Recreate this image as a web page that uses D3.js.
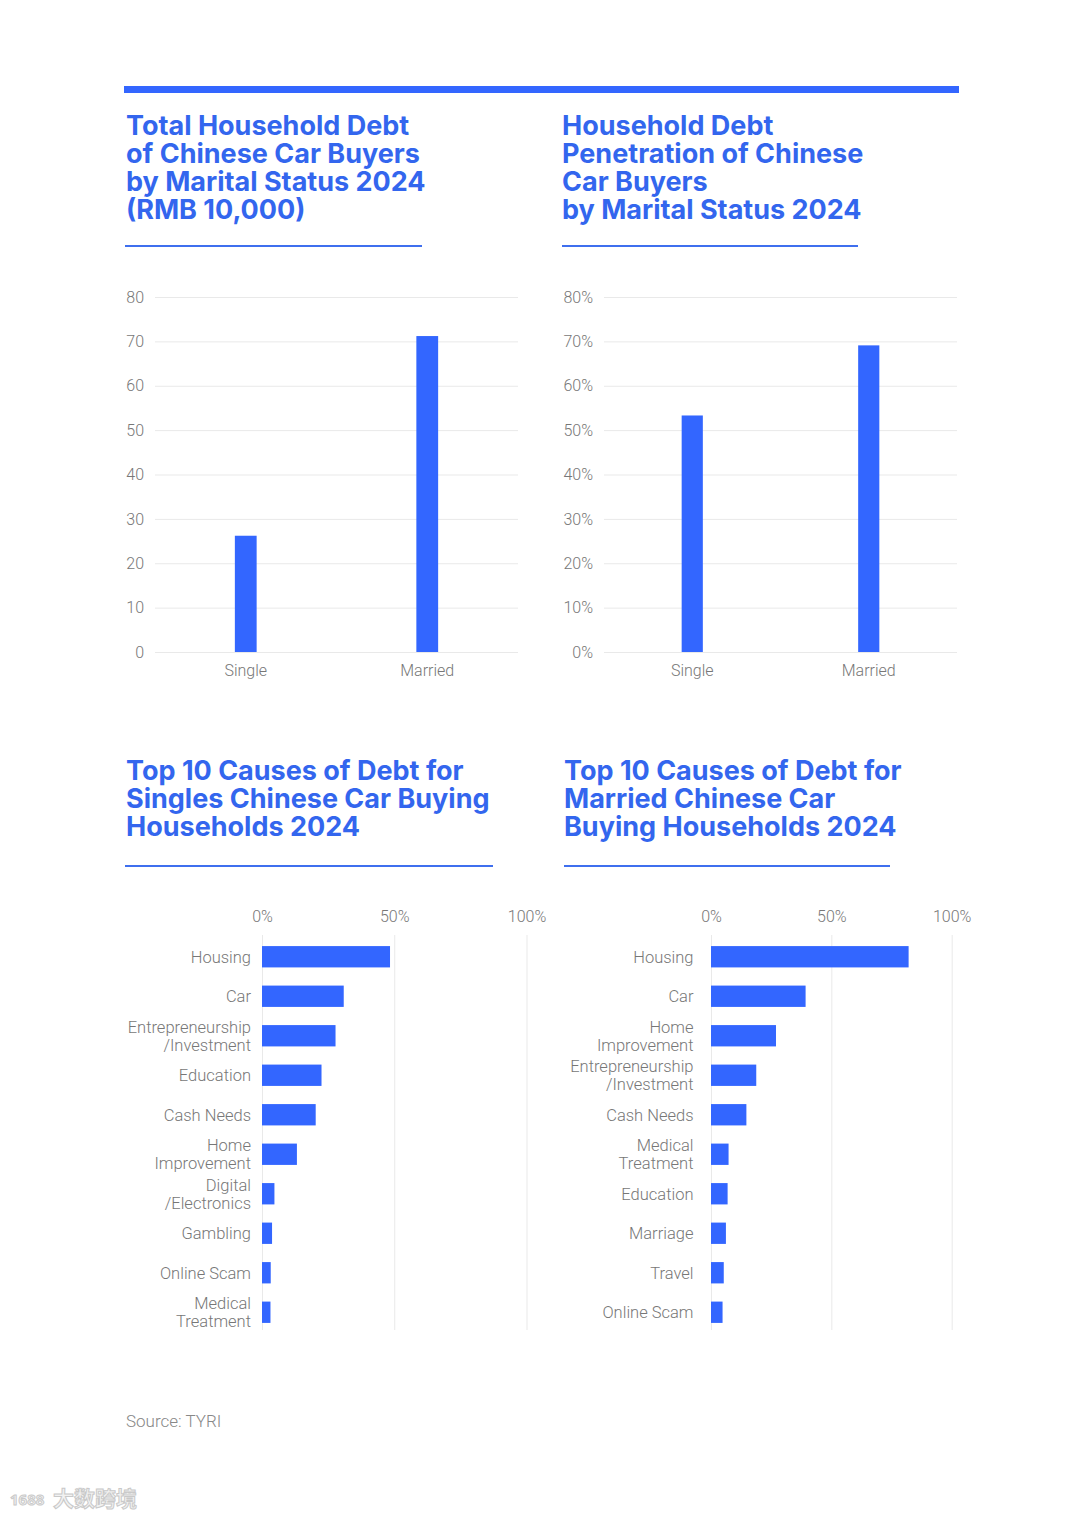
<!DOCTYPE html>
<html>
  <head>
    <meta charset="utf-8">
    <title>Household Debt of Chinese Car Buyers</title>
    <script src="https://cdn.jsdelivr.net/npm/d3@7"></script>
    <style>
      body { margin: 0; background: #fff; }
      .title { font-family: Inter, "Noto Sans", sans-serif; font-weight: 700; fill: #3366ee; }
      .tick text { font-family: Roboto, "Liberation Sans", sans-serif; font-weight: 300; fill: #777; }
    </style>
  </head>
  <body>
    <svg width="1080" height="1517" id="mainsvg"></svg>
    <script>
      // ---- data ----
      const maritalStatus = ['Single', 'Married'];
      const totalDebt = [26.2, 71.2];          // RMB 10,000
      const debtPenetration = [0.533, 0.691];  // share of buyers with debt
      const debtTicks = [0, 10, 20, 30, 40, 50, 60, 70, 80];
      const pctTicks = [0, 0.1, 0.2, 0.3, 0.4, 0.5, 0.6, 0.7, 0.8];
      const causeTicks = [0, 0.5, 1];

      const singleCauses = ['Housing', 'Car', 'Entrepreneurship\n/Investment', 'Education', 'Cash Needs',
        'Home\nImprovement', 'Digital\n/Electronics', 'Gambling', 'Online Scam', 'Medical\nTreatment'];
      const singleShares = [0.484, 0.309, 0.278, 0.225, 0.203, 0.132, 0.047, 0.038, 0.033, 0.032];

      const marriedCauses = ['Housing', 'Car', 'Home\nImprovement', 'Entrepreneurship\n/Investment', 'Cash Needs',
        'Medical\nTreatment', 'Education', 'Marriage', 'Travel', 'Online Scam'];
      const marriedShares = [0.821, 0.393, 0.270, 0.188, 0.147, 0.073, 0.069, 0.062, 0.053, 0.048];

      const titles = [
        {x: 126, y: 135, lines: ['Total Household Debt', 'of Chinese Car Buyers', 'by Marital Status 2024', '(RMB 10,000)']},
        {x: 562, y: 135, lines: ['Household Debt', 'Penetration of Chinese', 'Car Buyers', 'by Marital Status 2024']},
        {x: 126, y: 780, lines: ['Top 10 Causes of Debt for', 'Singles Chinese Car Buying', 'Households 2024']},
        {x: 564, y: 780, lines: ['Top 10 Causes of Debt for', 'Married Chinese Car', 'Buying Households 2024']}
      ];

      const blue = '#3366ff';
      const svg = d3.select('#mainsvg');

      // header rule and title underlines
      svg.append('rect').attr('x', 124).attr('y', 86).attr('width', 835).attr('height', 7).attr('fill', blue);
      [[125, 245, 297], [562, 245, 296], [125, 865, 368], [564, 865, 326]].forEach(([x, y, w]) => {
        svg.append('rect').attr('x', x).attr('y', y).attr('width', w).attr('height', 2).attr('fill', '#3f6fee');
      });

      titles.forEach(t => {
        const txt = svg.append('text').attr('class', 'title').attr('font-size', 27);
        t.lines.forEach((l, i) => txt.append('tspan').attr('x', t.x).attr('y', t.y + i * 28).text(l));
      });

      // vertical bar chart (top row)
      function columnChart(opt) {
        const g = svg.append('g');
        const x = d3.scaleBand().domain(opt.cats).range([opt.left, opt.right])
          .paddingInner(0.88).paddingOuter(0.44);
        const y = d3.scaleLinear().domain([0, 0.8 * opt.scale]).range([652, 297]);

        g.append('g').attr('transform', `translate(${opt.left},0)`)
          .call(d3.axisLeft(y).tickValues(opt.ticks).tickFormat(opt.fmt)
            .tickSize(-(opt.right - opt.left)).tickPadding(11))
          .call(a => a.select('.domain').remove())
          .call(a => a.selectAll('.tick line').attr('stroke', '#e9e9e9'))
          .call(a => a.selectAll('.tick text').attr('font-size', 16));

        g.append('g').attr('transform', 'translate(0,652)')
          .call(d3.axisBottom(x).tickSize(0).tickPadding(13))
          .call(a => a.select('.domain').remove())
          .call(a => a.selectAll('.tick text').attr('font-size', 16));

        g.selectAll('rect.bar').data(opt.values).join('rect').attr('class', 'bar')
          .attr('x', (d, i) => x(opt.cats[i]))
          .attr('y', d => y(d))
          .attr('width', x.bandwidth())
          .attr('height', d => y(0) - y(d))
          .attr('fill', blue);
      }

      // horizontal bar chart (bottom row)
      function barChart(opt) {
        const g = svg.append('g');
        const x = d3.scaleLinear().domain([0, 1]).range([opt.left, opt.right]);
        const y = d3.scaleBand().domain(opt.cats).range([937, 1332])
          .paddingInner(0.46).paddingOuter(0.23);

        g.append('g').attr('transform', 'translate(0,935)')
          .call(d3.axisTop(x).tickValues(causeTicks).tickFormat(d3.format('.0%'))
            .tickSize(-395).tickPadding(13))
          .call(a => a.select('.domain').remove())
          .call(a => a.selectAll('.tick line').attr('stroke', '#e9e9e9'))
          .call(a => a.selectAll('.tick text').attr('font-size', 16));

        const yAxis = g.append('g').attr('transform', `translate(${opt.left},0)`)
          .call(d3.axisLeft(y).tickSize(0).tickPadding(opt.pad))
          .call(a => a.select('.domain').remove());

        // split two-line labels
        yAxis.selectAll('.tick text').each(function(d) {
          const t = d3.select(this).attr('font-size', 16.5).attr('dy', null).text(null);
          const lines = d.split('\n');
          lines.forEach((l, i) => {
            t.append('tspan').attr('x', -opt.pad)
              .attr('y', 6 + (i - (lines.length - 1) / 2) * 18)
              .text(l);
          });
        });

        g.selectAll('rect.bar').data(opt.values).join('rect').attr('class', 'bar')
          .attr('x', x(0))
          .attr('y', (d, i) => y(opt.cats[i]))
          .attr('width', d => x(d) - x(0))
          .attr('height', y.bandwidth())
          .attr('fill', blue);
      }

      columnChart({cats: maritalStatus, values: totalDebt, left: 155, right: 518, scale: 100,
        ticks: debtTicks, fmt: d3.format('d')});
      columnChart({cats: maritalStatus, values: debtPenetration, left: 604, right: 957, scale: 1,
        ticks: pctTicks, fmt: d3.format('.0%')});

      barChart({cats: singleCauses, values: singleShares, left: 262, right: 526.5, pad: 11});
      barChart({cats: marriedCauses, values: marriedShares, left: 711, right: 951.7, pad: 17.5});

      // source and watermark
      svg.append('text').attr('x', 126).attr('y', 1427)
        .attr('font-family', 'Roboto, "Noto Sans", sans-serif').attr('font-weight', 300).attr('font-size', 17)
        .attr('fill', '#888').text('Source: TYRI');

      const wm = svg.append('g').attr('fill', '#f2f2f2').attr('stroke', '#c9c9c9').attr('stroke-width', 1);
      wm.append('text').attr('x', 10).attr('y', 1505)
        .attr('font-family', '"Noto Sans", sans-serif').attr('font-size', 15).attr('font-weight', 700)
        .text('1688');
      wm.append('text').attr('x', 53).attr('y', 1506)
        .attr('font-family', '"Noto Sans CJK SC", sans-serif').attr('font-size', 21).attr('font-weight', 700)
        .text('大数跨境');
    </script>
  </body>
</html>
